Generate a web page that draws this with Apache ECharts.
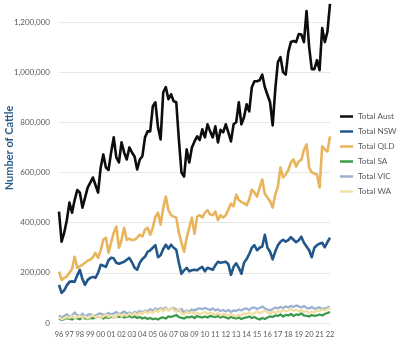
<!DOCTYPE html>
<html>
<head>
<meta charset="utf-8">
<script src="https://cdn.jsdelivr.net/npm/echarts@6/dist/echarts.min.js"></script>
<style>
  html, body { margin: 0; padding: 0; background: #fff; }
  #chart { width: 400px; height: 342px; }
</style>
</head>
<body>
<div id="chart"></div>
<script>
// Year tick labels (one per year, first quarter of each year)
const years = ['96','97','98','99','00','01','02','03','04','05','06','07','08','09','10','11','12','13','14','15','16','17','18','19','20','21','22'];

// Quarterly cattle numbers, 1996 Q1 to 2022 Q1
const totalAust = [
  444000,324000,360000,410000, 480000,440000,490000,530000, 520000,460000,500000,540000, 560000,580000,550000,520000,
  620000,672000,620000,610000, 680000,740000,660000,640000, 720000,680000,652000,700000, 680000,664000,612000,652000,
  665000,740000,764000,764000, 864000,880000,780000,732000, 920000,940000,892000,912000, 884000,880000,732000,600000,
  584000,692000,640000,700000, 724000,744000,730000,772000, 740000,792000,764000,740000, 784000,720000,770000,760000,
  792000,760000,724000,792000, 800000,880000,792000,820000, 872000,844000,940000,964000, 964000,968000,990000,940000,
  910000,880000,788000,932000, 1040000,1060000,1000000,990000, 1080000,1120000,1124000,1120000, 1152000,1150000,1120000,1244000,
  1100000,1012000,1012000,1048000, 1008000,1176000,1120000,1160000, 1272000
];
const totalNSW = [
  152000,120000,130000,150000, 164000,166000,164000,190000, 212000,175000,152000,172000, 180000,184000,180000,200000,
  232000,228000,224000,250000, 260000,258000,240000,236000, 240000,244000,252000,260000, 242000,220000,212000,240000,
  255000,264000,284000,290000, 300000,310000,262000,270000, 295000,312000,296000,312000, 300000,292000,240000,196000,
  210000,220000,206000,210000, 212000,210000,218000,224000, 206000,220000,216000,212000, 230000,244000,240000,242000,
  244000,234000,192000,224000, 238000,220000,196000,240000, 255000,275000,300000,310000, 290000,300000,305000,352000,
  300000,284000,254000,285000, 310000,324000,332000,324000, 330000,342000,332000,322000, 330000,344000,320000,305000,
  290000,262000,300000,310000, 316000,320000,302000,322000, 340000
];
const totalQLD = [
  205000,172000,180000,185000, 200000,215000,264000,220000, 226000,232000,240000,248000, 252000,262000,280000,260000,
  290000,332000,340000,280000, 320000,360000,384000,300000, 330000,380000,332000,336000, 330000,332000,340000,352000,
  345000,372000,380000,352000, 380000,424000,440000,392000, 460000,504000,450000,430000, 424000,420000,360000,320000,
  284000,340000,380000,420000, 356000,424000,430000,420000, 440000,450000,432000,430000, 444000,410000,430000,420000,
  430000,452000,476000,465000, 512000,490000,482000,478000, 470000,492000,532000,520000, 504000,540000,572000,515000,
  500000,485000,460000,512000, 544000,620000,580000,592000, 610000,640000,652000,624000, 644000,650000,690000,712000,
  620000,600000,596000,592000, 540000,704000,692000,684000, 744000
];
const totalSA = [
  18000,12000,15000,20000, 16000,14000,20000,18000, 15000,22000,18000,16000, 20000,18000,22000,25000,
  22000,18000,24000,20000, 25000,22000,28000,24000, 26000,22000,24000,28000, 22000,26000,20000,24000,
  18000,22000,16000,20000, 15000,18000,14000,20000, 22000,18000,26000,24000, 28000,32000,24000,20000,
  18000,24000,22000,26000, 20000,28000,24000,22000, 26000,22000,28000,25000, 24000,28000,22000,26000,
  22000,18000,24000,20000, 18000,22000,16000,20000, 22000,26000,20000,24000, 18000,14000,20000,16000,
  22000,26000,24000,30000, 28000,34000,26000,32000, 30000,36000,28000,34000, 32000,38000,30000,28000,
  26000,32000,28000,30000, 34000,30000,36000,40000, 44000
];
const totalVIC = [
  30000,22000,28000,35000, 25000,30000,42000,32000, 28000,38000,26000,32000, 35000,30000,28000,36000,
  38000,32000,35000,40000, 34000,38000,44000,36000, 40000,46000,38000,42000, 35000,44000,40000,48000,
  42000,50000,46000,55000, 48000,58000,52000,60000, 55000,62000,50000,58000, 60000,54000,48000,56000,
  42000,50000,46000,54000, 50000,56000,58000,55000, 60000,56000,52000,58000, 50000,55000,48000,52000,
  46000,52000,44000,50000, 48000,54000,50000,56000, 58000,52000,60000,62000, 56000,60000,66000,58000,
  54000,50000,56000,62000, 58000,64000,60000,66000, 62000,68000,64000,70000, 66000,62000,68000,60000,
  58000,64000,56000,60000, 62000,56000,58000,62000, 64000
];
const totalWA = [
  22000,15000,18000,25000, 20000,28000,18000,24000, 30000,20000,26000,18000, 24000,32000,22000,28000,
  20000,26000,34000,24000, 30000,22000,28000,36000, 26000,34000,28000,38000, 30000,40000,32000,42000,
  36000,48000,38000,46000, 40000,52000,44000,56000, 46000,58000,50000,62000, 52000,44000,56000,40000,
  34000,46000,38000,44000, 36000,42000,34000,40000, 44000,36000,42000,38000, 32000,40000,30000,36000,
  34000,28000,36000,30000, 26000,34000,30000,38000, 36000,42000,34000,40000, 46000,38000,44000,50000,
  42000,36000,46000,40000, 48000,44000,52000,46000, 50000,56000,48000,54000, 46000,52000,44000,48000,
  40000,46000,42000,50000, 48000,54000,50000,56000, 62000
];

const seriesNames = ['Total Aust', 'Total NSW', 'Total QLD', 'Total SA', 'Total VIC', 'Total WA'];
const seriesColors = ['#0d0d0d', '#22578a', '#e8b45c', '#3d9a4c', '#9cb1cf', '#f0dea4'];
const seriesWidths = [2.6, 2.6, 2.6, 2.3, 2.3, 2.3];
const seriesData = [totalAust, totalNSW, totalQLD, totalSA, totalVIC, totalWA];

// Quarter categories; every fourth one carries a year tick label
const quarters = [];
years.forEach((y, yi) => {
  const nq = yi === years.length - 1 ? 1 : 4;
  for (let q = 1; q <= nq; q++) quarters.push(y + ' Q' + q);
});

const FONT = 'Lato, "Open Sans", sans-serif';
const TEXT_GREY = '#595959';

const chart = echarts.init(document.getElementById('chart'), null, { renderer: 'canvas' });
chart.setOption({
  animation: false,
  backgroundColor: '#fff',
  textStyle: { fontFamily: FONT },
  grid: { left: 59, right: 70, top: 22, bottom: 19, containLabel: false },
  legend: {
    orient: 'vertical',
    left: 340,
    top: 111,
    padding: 0,
    icon: 'rect',
    itemWidth: 13,
    itemHeight: 2.5,
    itemGap: 4,
    textStyle: { fontFamily: FONT, fontSize: 8.2, color: TEXT_GREY, lineHeight: 11 },
    data: seriesNames
  },
  graphic: [{
    type: 'text',
    x: 9,
    y: 148,
    rotation: Math.PI / 2,
    style: {
      text: 'Number of Cattle',
      fontFamily: FONT,
      fontSize: 11,
      fontWeight: 'bold',
      fill: '#2b5d8c',
      align: 'center',
      verticalAlign: 'middle'
    }
  }],
  xAxis: {
    type: 'category',
    data: quarters,
    boundaryGap: false,
    axisLine: { show: false },
    axisTick: { show: false },
    splitLine: { show: false },
    axisLabel: {
      interval: 3,
      margin: 8,
      fontSize: 7.5,
      color: TEXT_GREY,
      fontFamily: FONT,
      formatter: (v, i) => years[Math.floor(i / 4)]
    }
  },
  yAxis: {
    type: 'value',
    min: 0,
    max: 1200000,
    interval: 200000,
    axisLine: { show: false },
    axisTick: { show: false },
    splitLine: { show: true, lineStyle: { color: '#e6e6e6', width: 1 } },
    axisLabel: {
      margin: 9,
      fontSize: 8,
      color: TEXT_GREY,
      fontFamily: FONT,
      formatter: v => v.toLocaleString('en-US')
    }
  },
  series: seriesNames.map((name, k) => ({
    name,
    type: 'line',
    data: seriesData[k],
    showSymbol: false,
    symbol: 'none',
    clip: false,
    lineStyle: { color: seriesColors[k], width: seriesWidths[k], join: 'round' },
    itemStyle: { color: seriesColors[k] },
    emphasis: { disabled: true }
  }))
});
</script>
</body>
</html>
